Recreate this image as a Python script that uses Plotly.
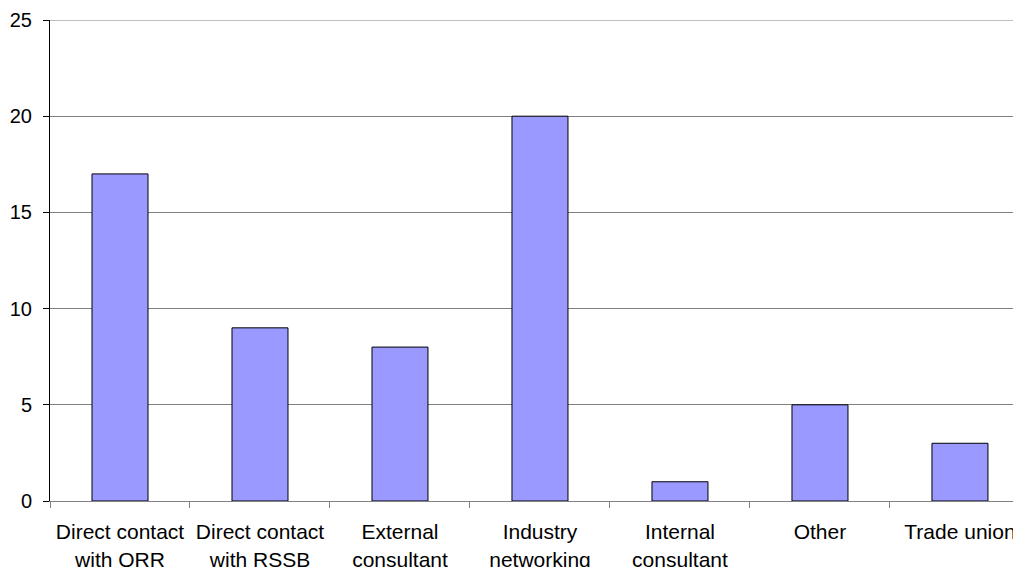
import plotly.graph_objects as go

categories = ["Direct contact<br>with ORR", "Direct contact<br>with RSSB", "External<br>consultant",
              "Industry<br>networking", "Internal<br>consultant", "Other", "Trade union"]
values = [17, 9, 8, 20, 1, 5, 3]
y_ticks = [0, 5, 10, 15, 20, 25]

fig = go.Figure(go.Bar(
    x=categories, y=values,
    marker=dict(color="#9999FF", line=dict(color="#000000", width=1)),
    width=0.4,
))

xfont = dict(family="Liberation Sans, Arial, sans-serif", size=21, color="#000000")
yfont = dict(family="Liberation Sans, Arial, sans-serif", size=20, color="#000000")

fig.update_layout(
    width=1013, height=559,
    margin=dict(l=42, r=0, t=12, b=66),
    paper_bgcolor="white", plot_bgcolor="white",
    showlegend=False,
    font=xfont,
    xaxis=dict(
        type="category",
        range=[-0.5, 6.436],
        automargin=False,
        showline=True, linecolor="#808080", linewidth=1,
        ticks="outside", tickson="boundaries", ticklen=6, tickcolor="#808080",
        showgrid=False, zeroline=False,
        tickfont=xfont,
        ticklabelstandoff=12,
    ),
    yaxis=dict(
        range=[0, 25],
        tickvals=y_ticks,
        automargin=False,
        showline=True, linecolor="#000000", linewidth=1,
        ticks="outside", ticklen=6, tickcolor="#000000",
        showgrid=True, gridcolor="#808080", gridwidth=1,
        zeroline=False,
        tickfont=yfont,
        ticklabelstandoff=7,
    ),
    shapes=[dict(type="line", xref="paper", yref="y", x0=0, x1=1,
                 y0=y_ticks[-1], y1=y_ticks[-1],
                 line=dict(color="#808080", width=1), layer="below")],
)

fig.write_html("out.html")
